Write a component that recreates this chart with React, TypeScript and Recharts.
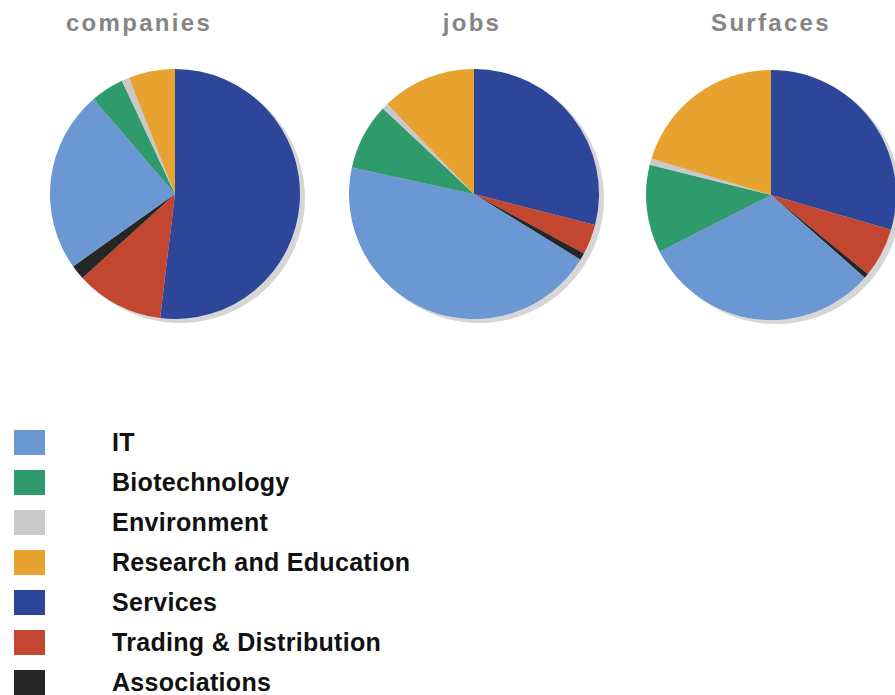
import { PieChart, Pie, Cell } from "recharts";

const categories = [
  "IT",
  "Biotechnology",
  "Environment",
  "Research and Education",
  "Services",
  "Trading & Distribution",
  "Associations",
];
const colors = ["#6b97d2", "#2f9a6b", "#c9c9c9", "#e8a230", "#2e4699", "#c34630", "#262626"];

// shares in %, same order as categories
const companies = [23.6, 4.3, 1.0, 6.0, 52.0, 11.4, 1.9];
const jobs = [44.6, 8.6, 0.8, 12.2, 29.0, 3.9, 0.9];
const surfaces = [31.0, 11.4, 0.8, 20.3, 29.5, 6.4, 0.6];

const titles = ["companies", "jobs", "Surfaces"];

// slices run clockwise from 12 o'clock starting with Services
const drawOrder = [4, 5, 6, 0, 1, 2, 3];

const pies = [
  { title: titles[0], values: companies, cx: 175, cy: 194, titleX: 139 },
  { title: titles[1], values: jobs, cx: 474, cy: 194, titleX: 472 },
  { title: titles[2], values: surfaces, cx: 771, cy: 195, titleX: 771 },
];

const R = 125;

const toRows = (values: number[]) =>
  drawOrder.map((i) => ({ name: categories[i], value: values[i], color: colors[i] }));

const LegendBox = () => (
  <div style={{ position: "absolute", left: 0, top: 422, fontFamily: "'Liberation Sans', Arial, sans-serif" }}>
    {categories.map((c, i) => (
      <div key={c} style={{ display: "flex", alignItems: "center", height: 40 }}>
        <div style={{ width: 31, height: 25, background: colors[i], marginLeft: 14 }} />
        <span
          style={{
            marginLeft: 67,
            fontSize: 25,
            fontWeight: "bold",
            color: "#111",
            letterSpacing: 0.3,
          }}
        >
          {c}
        </span>
      </div>
    ))}
  </div>
);

export default function App() {
  return (
    <div style={{ position: "absolute", left: 0, top: 0, width: 895, height: 695, background: "#fff", overflow: "hidden" }}>
      <PieChart width={895} height={695} margin={{ top: 0, right: 0, bottom: 0, left: 0 }}>
        {pies.map((p) => (
          <Pie
            key={p.title + "-shadow"}
            data={[{ name: "shadow", value: 1 }]}
            dataKey="value"
            cx={p.cx + 5}
            cy={p.cy + 4}
            outerRadius={R}
            fill="#d6d6d6"
            stroke="none"
            isAnimationActive={false}
            legendType="none"
          />
        ))}
        {pies.map((p) => (
          <Pie
            key={p.title}
            data={toRows(p.values)}
            dataKey="value"
            nameKey="name"
            cx={p.cx}
            cy={p.cy}
            outerRadius={R}
            startAngle={90}
            endAngle={-270}
            stroke="none"
            isAnimationActive={false}
          >
            {toRows(p.values).map((d) => (
              <Cell key={d.name} fill={d.color} />
            ))}
          </Pie>
        ))}
      </PieChart>
      {pies.map((p) => (
        <div
          key={p.title + "-title"}
          style={{
            position: "absolute",
            top: 9,
            left: p.titleX - 100,
            width: 200,
            textAlign: "center",
            fontFamily: "'Liberation Sans', Arial, sans-serif",
            fontWeight: "bold",
            fontSize: 24,
            letterSpacing: 2.3,
            color: "#858585",
          }}
        >
          {p.title}
        </div>
      ))}
      <LegendBox />
    </div>
  );
}
